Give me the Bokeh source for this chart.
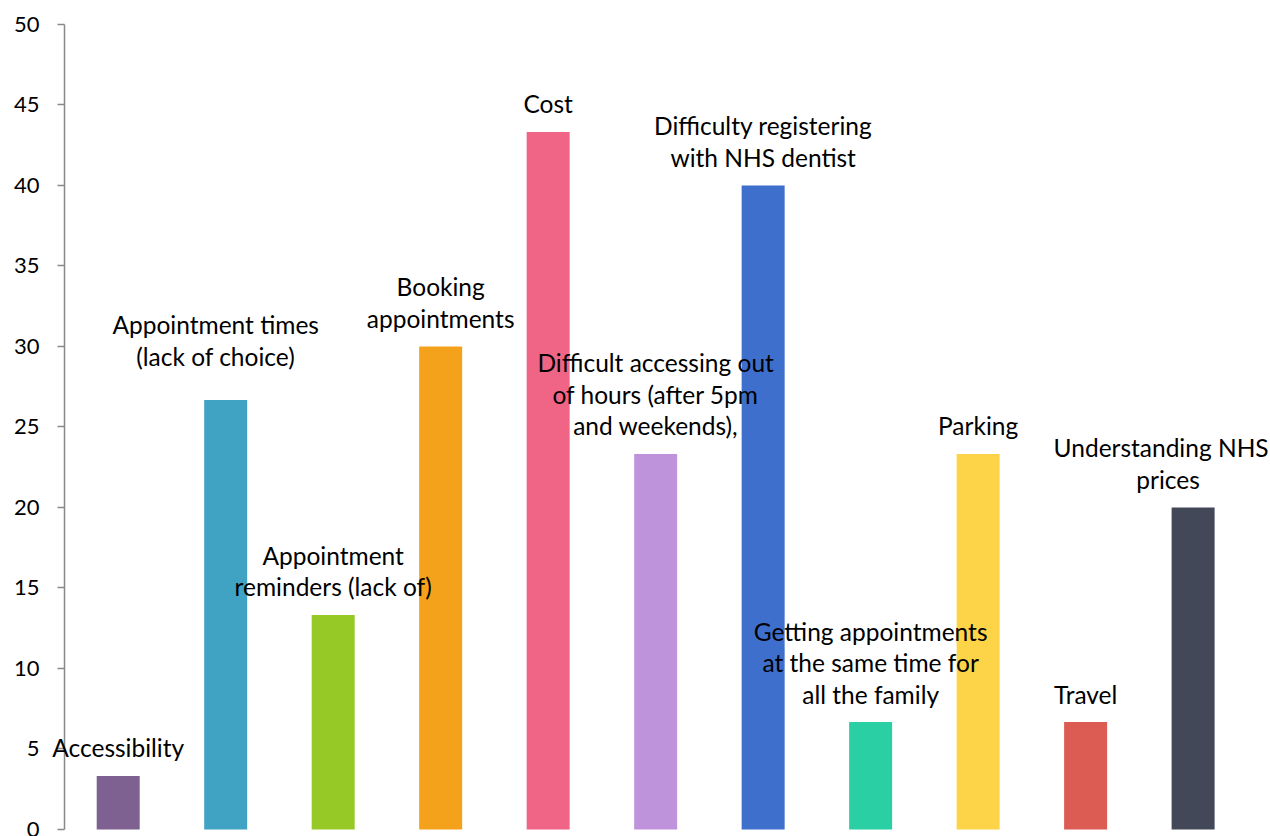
from bokeh.plotting import figure
from bokeh.models import ColumnDataSource, Range1d, FixedTicker, Label
from bokeh.embed import file_html
from bokeh.resources import INLINE

# ---- data ----
categories = [
    "Accessibility",
    "Appointment times\n(lack of choice)",
    "Appointment\nreminders (lack of)",
    "Booking\nappointments",
    "Cost",
    "Difficult accessing out\nof hours (after 5pm\nand weekends),",
    "Difficulty registering\nwith NHS dentist",
    "Getting appointments\nat the same time for\nall the family",
    "Parking",
    "Travel",
    "Understanding NHS\nprices",
]
values = [3.33, 26.67, 13.33, 30.0, 43.33, 23.33, 40.0, 6.67, 23.33, 6.67, 20.0]
colors = ["#7E6191", "#40A3C4", "#97C926", "#F4A11B", "#F06586", "#BF93DB",
          "#3E6FCD", "#2BCFA4", "#FDD447", "#DC5B52", "#434859"]
y_ticks = [0, 5, 10, 15, 20, 25, 30, 35, 40, 45, 50]

FONT = "Lato"
LINE_H = 31.5

n = len(categories)
xs = [i + 0.5 for i in range(n)]

src = ColumnDataSource(dict(x=xs, top=values, color=colors))

p = figure(width=1270, height=836, output_backend="svg", toolbar_location=None,
           x_range=Range1d(-0.595, n + 0.22), y_range=Range1d(-0.435, 51.49),
           min_border_left=0, min_border_right=0, min_border_top=0,
           min_border_bottom=0)
p.outline_line_color = None
p.xgrid.visible = False
p.ygrid.visible = False
p.xaxis.visible = False

p.vbar(x="x", top="top", width=0.4, bottom=0, fill_color="color",
       line_color=None, source=src)

# label nudges in pixels (style only)
nudge_x = {1: [-10, -10], 10: [-32, -25]}
nudge_y = {1: 16}

for i, (cat, v) in enumerate(zip(categories, values)):
    lines = cat.split("\n")
    for k, line in enumerate(lines):
        from_bottom = len(lines) - 1 - k
        dx = nudge_x.get(i, [0] * len(lines))[k]
        dy = 28 + nudge_y.get(i, 0) + from_bottom * LINE_H
        p.add_layout(Label(x=xs[i], y=v, text=line, x_offset=dx, y_offset=dy,
                           text_align="center", text_baseline="middle",
                           text_font=FONT, text_font_size="24.5px",
                           text_color="#000000"))

ax = p.yaxis[0]
ax.fixed_location = 0
ax.bounds = (y_ticks[0], y_ticks[-1])
ax.ticker = FixedTicker(ticks=y_ticks)
ax.axis_line_color = "#898989"
ax.axis_line_width = 1.5
ax.major_tick_line_color = "#898989"
ax.major_tick_line_width = 1.5
ax.major_tick_out = 7
ax.major_tick_in = 0
ax.minor_tick_line_color = None
ax.major_label_text_font = FONT
ax.major_label_text_font_size = "22px"
ax.major_label_text_color = "#000000"
ax.major_label_standoff = 18

open("out.html", "w").write(file_html(p, INLINE))
